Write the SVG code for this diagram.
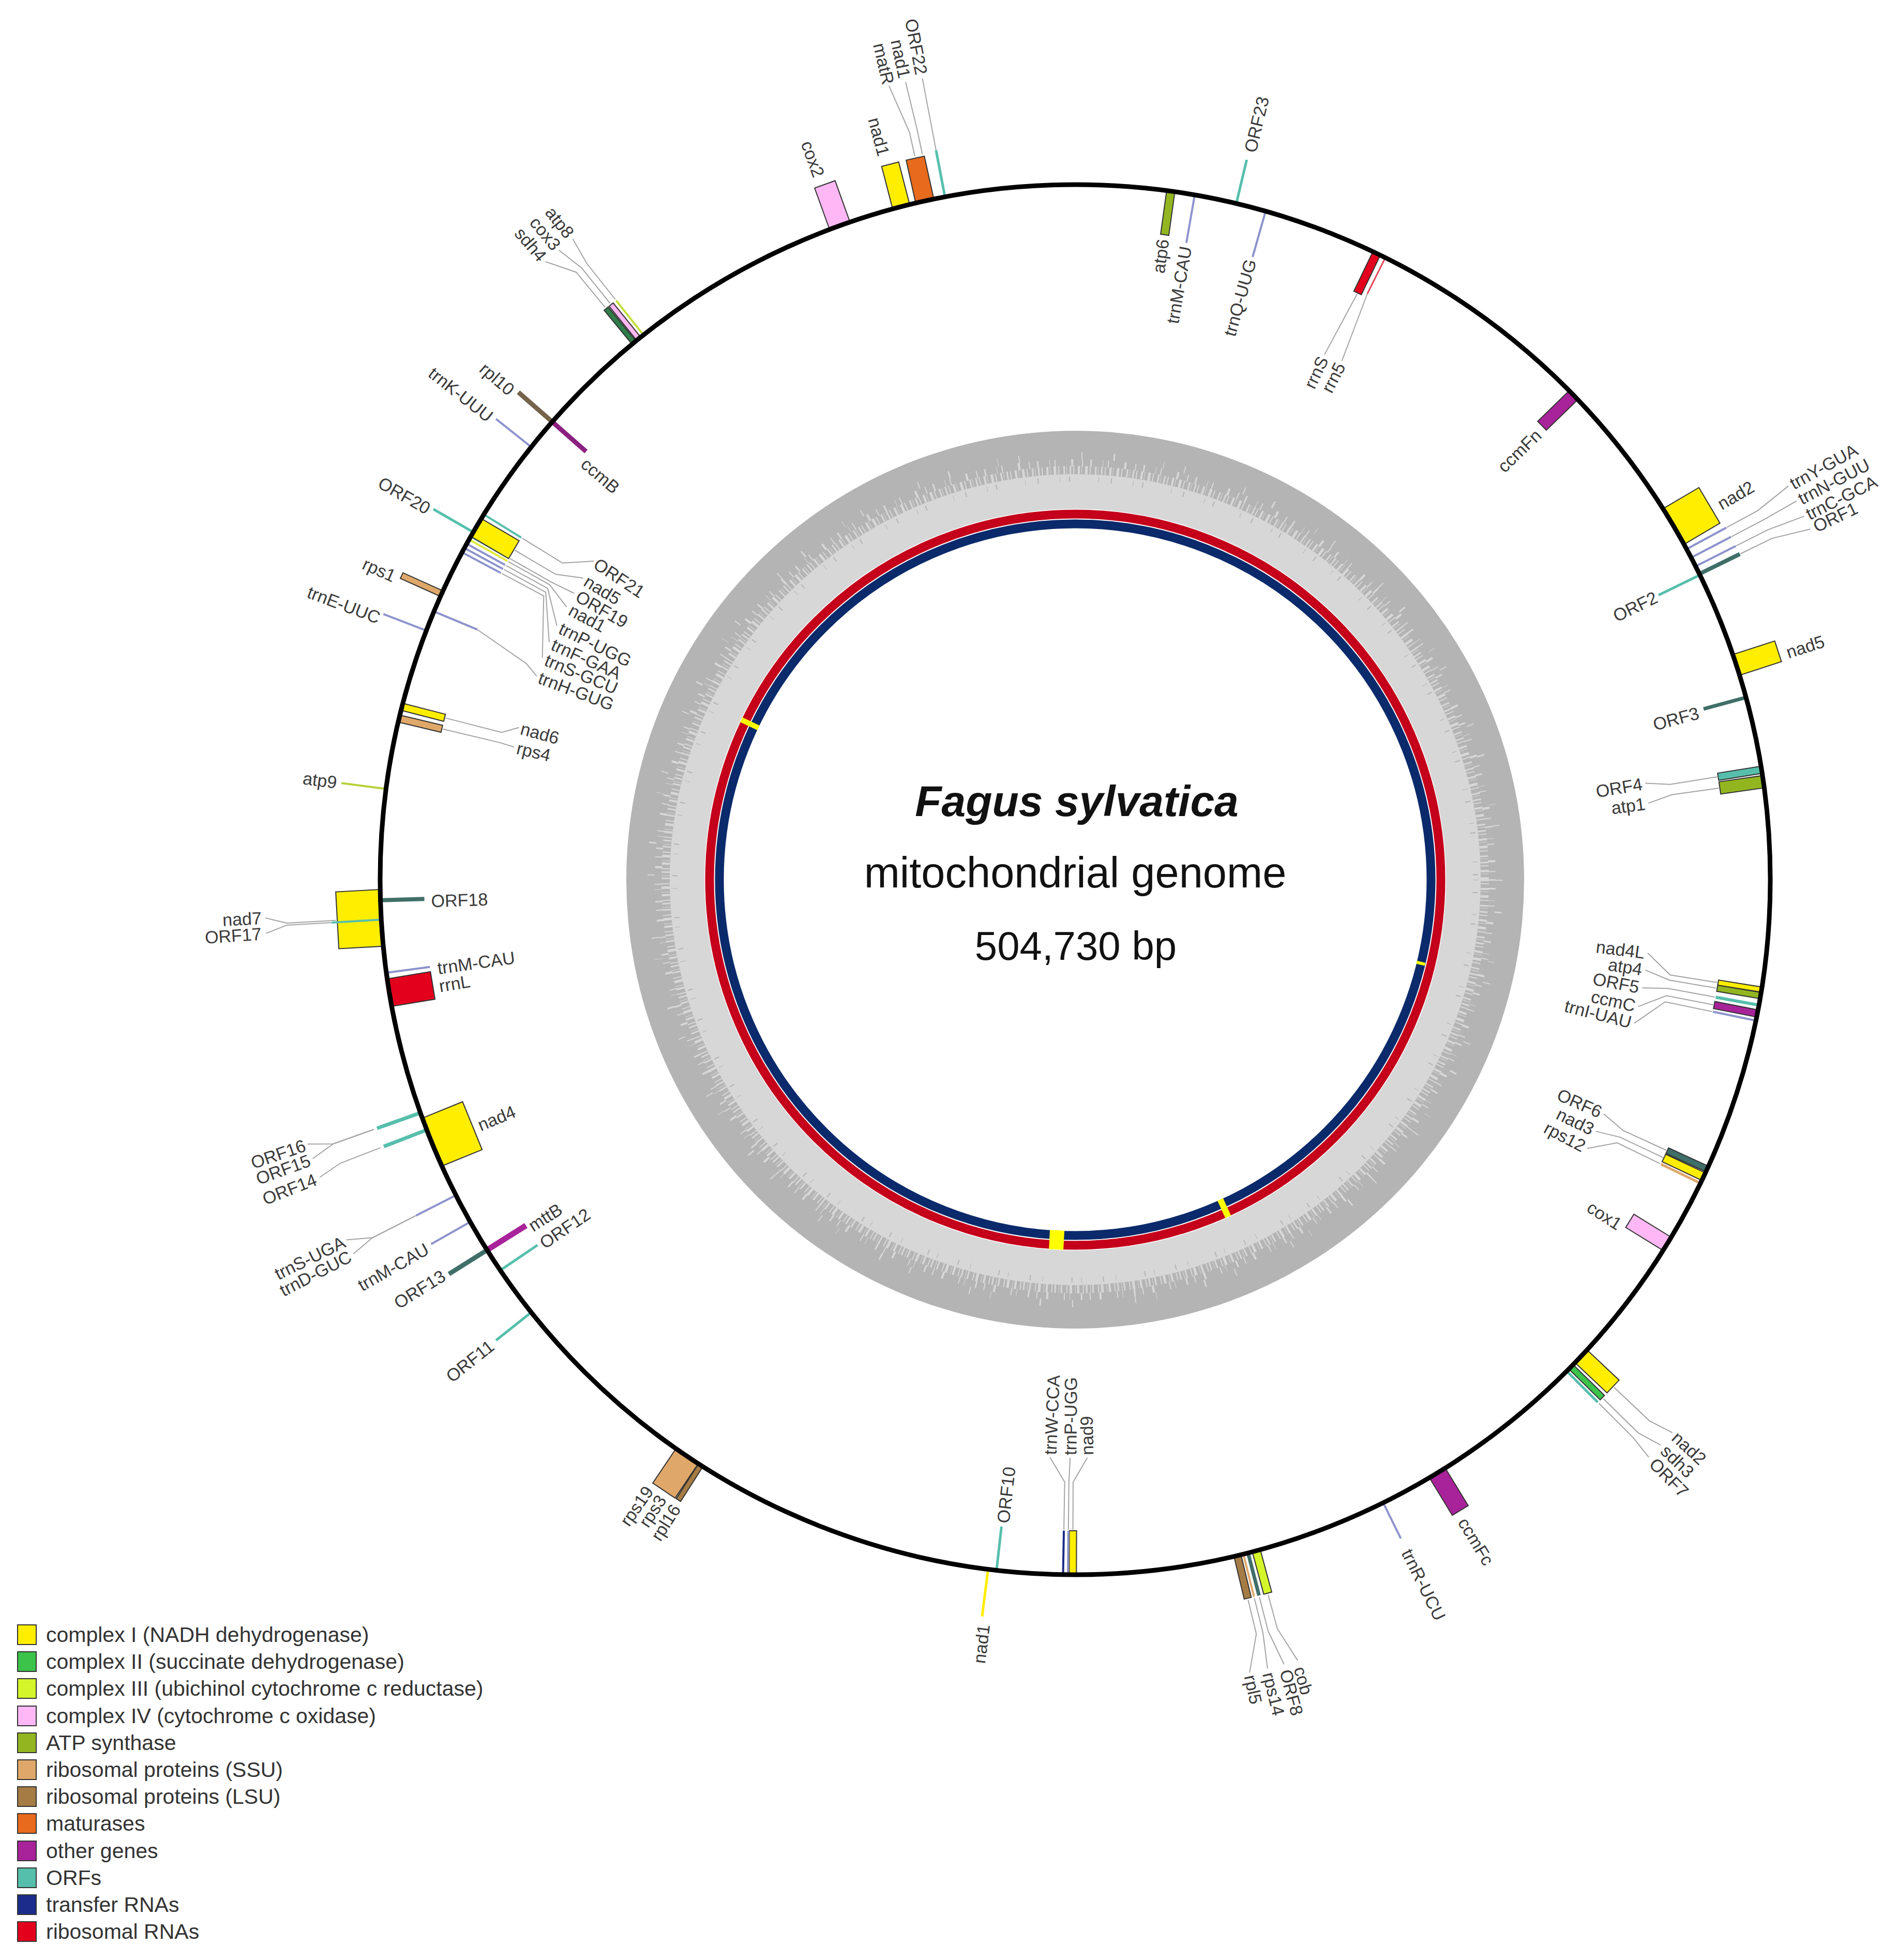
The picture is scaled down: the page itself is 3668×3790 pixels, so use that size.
<svg xmlns="http://www.w3.org/2000/svg" width="3668" height="3790" viewBox="0 0 3668 3790">
<style>
.bx{stroke:#333;stroke-width:2}
.t{font-family:"Liberation Sans",Arial,sans-serif;font-size:34px;fill:#3a3a3a}
.s{text-anchor:start}.e{text-anchor:end}
.ld{fill:none;stroke:#a3a3a3;stroke-width:2}
.tr{stroke:#8d93cc;stroke-width:4}
.lg{font-family:"Liberation Sans",Arial,sans-serif;font-size:41px;fill:#333}
.ctr{font-family:"Liberation Sans",Arial,sans-serif;fill:#111;text-anchor:middle}
</style>
<rect width="3668" height="3790" fill="#fff"/>
<g id="gc-ring">
<circle cx="2079" cy="1701" r="868" fill="#b4b4b4"/>
<circle cx="2079" cy="1701" r="784" fill="#d7d7d7"/>
<circle cx="2079" cy="1701" r="792" fill="none" stroke="#d7d7d7" stroke-width="16" stroke-dasharray="3 4 2 7 4 3 1 6 5 4 2 8 3 3 1 5"/>
<circle cx="2079" cy="1701" r="806" fill="none" stroke="#d7d7d7" stroke-width="14" stroke-dasharray="2 14 3 21 1 9 2 30 4 17"/>
<circle cx="2079" cy="1701" r="820" fill="none" stroke="#d7d7d7" stroke-width="14" stroke-dasharray="2 60 3 95 1 40 2 120"/>
<circle cx="2079" cy="1701" r="774" fill="none" stroke="#b4b4b4" stroke-width="10" stroke-dasharray="1 23 2 41 1 17 2 55"/>
<circle cx="2079" cy="1701" r="717" fill="#fff"/>
<circle cx="2079" cy="1701" r="707" fill="none" stroke="#c4001a" stroke-width="17"/>
<circle cx="2079" cy="1701" r="688" fill="none" stroke="#0b2a6b" stroke-width="17"/>
<g fill="#ffff00">
<rect x="2074" y="985" width="10" height="37" transform="rotate(295.6 2079 1701)"/>
<rect x="2076" y="1005" width="6" height="17" transform="rotate(103.6 2079 1701)"/>
<rect x="2073" y="985" width="12" height="37" transform="rotate(155.6 2079 1701)"/>
<rect x="2065" y="985" width="28" height="37" transform="rotate(182.95 2079 1701)"/>
</g>
</g>
<g id="title">
<text class="ctr" x="2082" y="1578" font-size="84" font-weight="bold" font-style="italic">Fagus sylvatica</text>
<text class="ctr" x="2079" y="1716" font-size="83">mitochondrial genome</text>
<text class="ctr" x="2080" y="1856" font-size="78">504,730 bp</text>
</g>
<g id="connectors" class="ld">
<polyline transform="rotate(-12.5 2079 1701)" points="2079,268 2079,221 2059.7,124.1"/>
<polyline transform="rotate(-11.9 2079 1701)" points="2079,268 2079,221 2076.2,124"/>
<polyline transform="rotate(-10.8 2079 1701)" points="2079,265 2079,124"/>
<polyline transform="rotate(61.6 2079 1701)" points="2079,269 2079,201 2065.3,126.1"/>
<polyline transform="rotate(62.4 2079 1701)" points="2079,269 2079,201 2076.3,126"/>
<polyline transform="rotate(63.2 2079 1701)" points="2079,269 2079,201 2087.2,126"/>
<polyline transform="rotate(63.9 2079 1701)" points="2079,269 2079,201 2095.5,126.1"/>
<polyline transform="rotate(25.7 2079 1701)" points="2079,444 2073.1,577"/>
<polyline transform="rotate(26.5 2079 1701)" points="2079,435 2092.8,573.1"/>
<polyline transform="rotate(80.9 2079 1701)" points="2079,444 2079,536 2069.2,583"/>
<polyline transform="rotate(81.9 2079 1701)" points="2079,444 2079,536 2088.8,583"/>
<polyline transform="rotate(99.1 2079 1701)" points="2079,444 2079,536 2043.9,585.6"/>
<polyline transform="rotate(99.6 2079 1701)" points="2079,444 2079,536 2067.3,585.1"/>
<polyline transform="rotate(100.4 2079 1701)" points="2079,444 2079,536 2086.8,585"/>
<polyline transform="rotate(101.1 2079 1701)" points="2079,444 2079,536 2110.2,585.4"/>
<polyline transform="rotate(101.7 2079 1701)" points="2079,444 2079,536 2131.6,586.2"/>
<polyline transform="rotate(114.6 2079 1701)" points="2079,444 2079,536 2065.3,583.1"/>
<polyline transform="rotate(115.3 2079 1701)" points="2079,444 2079,536 2088.8,583"/>
<polyline transform="rotate(115.9 2079 1701)" points="2079,444 2079,536 2114.1,583.6"/>
<polyline transform="rotate(133.3 2079 1701)" points="2079,269 2079,175 2065.3,127.1"/>
<polyline transform="rotate(134.5 2079 1701)" points="2079,269 2079,175 2065.3,127.1"/>
<polyline transform="rotate(135 2079 1701)" points="2079,269 2079,175 2084.5,127"/>
<polyline transform="rotate(166.5 2079 1701)" points="2079,269 2079,201 2109.1,131.3"/>
<polyline transform="rotate(166 2079 1701)" points="2079,269 2079,201 2087.2,131"/>
<polyline transform="rotate(165.6 2079 1701)" points="2079,269 2079,201 2065.3,131"/>
<polyline transform="rotate(164.9 2079 1701)" points="2079,269 2079,201 2057.1,131.2"/>
<polyline transform="rotate(180.2 2079 1701)" points="2079,444 2079,536 2051.7,583.3"/>
<polyline transform="rotate(180.6 2079 1701)" points="2079,444 2079,536 2077,583"/>
<polyline transform="rotate(181 2079 1701)" points="2079,444 2079,536 2108.3,583.4"/>
<polyline transform="rotate(243 2079 1701)" points="2079,269 2079,176 2098.2,129.1"/>
<polyline transform="rotate(243 2079 1701)" points="2079,269 2079,176 2068,129"/>
<polyline transform="rotate(250.4 2079 1701)" points="2079,261 2079,178 2095.4,131.1"/>
<polyline transform="rotate(250.4 2079 1701)" points="2079,261 2079,178 2065.3,131.1"/>
<polyline transform="rotate(248.9 2079 1701)" points="2079,261 2079,178 2068,131"/>
<polyline transform="rotate(266.85 2079 1701)" points="2079,269 2079,174 2091.3,133"/>
<polyline transform="rotate(266.7 2079 1701)" points="2079,261 2079,174 2065.3,133.1"/>
<polyline transform="rotate(284.4 2079 1701)" points="2079,444 2079,556 2096.5,586.1"/>
<polyline transform="rotate(283.4 2079 1701)" points="2079,444 2079,556 2077.1,586"/>
<polyline transform="rotate(292.7 2079 1701)" points="2079,448 2055.1,560.3 2040.2,588.7"/>
<polyline transform="rotate(301.7 2079 1701)" points="2079,444 2079,536 2114.1,585.6"/>
<polyline transform="rotate(300.45 2079 1701)" points="2079,444 2079,536 2099.5,585.2"/>
<polyline transform="rotate(299.6 2079 1701)" points="2079,444 2079,536 2081.9,585"/>
<polyline transform="rotate(299.3 2079 1701)" points="2079,444 2079,536 2057.6,585.2"/>
<polyline transform="rotate(298.9 2079 1701)" points="2079,444 2079,536 2024.5,586.3"/>
<polyline transform="rotate(298.5 2079 1701)" points="2079,444 2079,536 1997.3,588"/>
<polyline transform="rotate(298.1 2079 1701)" points="2079,444 2079,536 1972,590.1"/>
<polyline transform="rotate(320.6 2079 1701)" points="2079,269 2079,181 2046,127.3"/>
<polyline transform="rotate(321.1 2079 1701)" points="2079,269 2079,181 2066.6,127"/>
<polyline transform="rotate(321.6 2079 1701)" points="2079,269 2079,181 2087.2,127"/>
</g>
<g id="genes">
<g id="g-cox2"><rect class="bx" x="2058" y="272" width="42" height="85" fill="#ffb8f5" transform="rotate(-19.8 2079 1701)"/><g transform="rotate(-20 2079 1701)"><text class="t e" x="2079" y="254" dy="12" transform="rotate(90 2079 254)">cox2</text></g></g>
<g id="g-nad1-a"><rect class="bx" x="2062" y="272" width="34" height="85" fill="#ffee00" transform="rotate(-14.5 2079 1701)"/><g transform="rotate(-14.8 2079 1701)"><text class="t e" x="2079" y="253" dy="12" transform="rotate(90 2079 253)">nad1</text></g></g>
<g id="g-matR"><rect class="bx" x="2061" y="272" width="36" height="85" fill="#e86a1c" transform="rotate(-12.5 2079 1701)"/><g transform="rotate(-13.2 2079 1701)"><text class="t e" x="2079" y="121" dy="12" transform="rotate(90 2079 121)">matR</text></g></g>
<g id="g-nad1-b"><g transform="rotate(-12 2079 1701)"><text class="t e" x="2079" y="116" dy="12" transform="rotate(90 2079 116)">nad1</text></g></g>
<g id="g-ORF22"><line x1="2079" y1="357" x2="2079" y2="265" stroke="#56bfac" stroke-width="5" transform="rotate(-10.8 2079 1701)"/><g transform="rotate(-10.8 2079 1701)"><text class="t e" x="2079" y="116" dy="12" transform="rotate(90 2079 116)">ORF22</text></g></g>
<g id="g-atp6"><rect class="bx" x="2071" y="357" width="16" height="85" fill="#93b620" transform="rotate(7.9 2079 1701)"/><g transform="rotate(7.8 2079 1701)"><text class="t e" x="2079" y="451" dy="12" transform="rotate(-90 2079 451)">atp6</text></g></g>
<g id="g-trnM-CAU-a"><line class="tr" x1="2079" y1="357" x2="2079" y2="451" transform="rotate(9.9 2079 1701)"/><g transform="rotate(9.9 2079 1701)"><text class="t e" x="2079" y="458" dy="12" transform="rotate(-90 2079 458)">trnM-CAU</text></g></g>
<g id="g-ORF23"><line x1="2079" y1="357" x2="2079" y2="270" stroke="#56bfac" stroke-width="5" transform="rotate(13.4 2079 1701)"/><g transform="rotate(13.5 2079 1701)"><text class="t s" x="2079" y="254" dy="12" transform="rotate(-90 2079 254)">ORF23</text></g></g>
<g id="g-trnQ-UUG"><line class="tr" x1="2079" y1="357" x2="2079" y2="449" transform="rotate(15.9 2079 1701)"/><g transform="rotate(15.8 2079 1701)"><text class="t e" x="2079" y="455" dy="12" transform="rotate(-90 2079 455)">trnQ-UUG</text></g></g>
<g id="g-rrnS"><rect class="bx" x="2071" y="357" width="16" height="85" fill="#e3001d" transform="rotate(25.7 2079 1701)"/><g transform="rotate(25.4 2079 1701)"><text class="t e" x="2079" y="583" dy="12" transform="rotate(-90 2079 583)">rrnS</text></g></g>
<g id="g-rrn5"><line x1="2079" y1="357" x2="2079" y2="435" stroke="#e54a5c" stroke-width="3" transform="rotate(26.5 2079 1701)"/><g transform="rotate(27.2 2079 1701)"><text class="t e" x="2079" y="579" dy="12" transform="rotate(-90 2079 579)">rrn5</text></g></g>
<g id="g-ccmFn"><rect class="bx" x="2067" y="357" width="24" height="85" fill="#a8239a" transform="rotate(45.8 2079 1701)"/><g transform="rotate(46 2079 1701)"><text class="t e" x="2079" y="456" dy="12" transform="rotate(-90 2079 456)">ccmFn</text></g></g>
<g id="g-nad2-a"><rect class="bx" x="2039" y="277" width="80" height="80" fill="#ffee00" transform="rotate(59.45 2079 1701)"/><g transform="rotate(59.8 2079 1701)"><text class="t s" x="2079" y="261" dy="12" transform="rotate(-90 2079 261)">nad2</text></g></g>
<g id="g-trnY-GUA"><line class="tr" x1="2079" y1="357" x2="2079" y2="270" transform="rotate(61.6 2079 1701)"/><g transform="rotate(61.1 2079 1701)"><text class="t s" x="2079" y="120" dy="12" transform="rotate(-90 2079 120)">trnY-GUA</text></g></g>
<g id="g-trnN-GUU"><line class="tr" x1="2079" y1="357" x2="2079" y2="270" transform="rotate(62.4 2079 1701)"/><g transform="rotate(62.3 2079 1701)"><text class="t s" x="2079" y="120" dy="12" transform="rotate(-90 2079 120)">trnN-GUU</text></g></g>
<g id="g-trnC-GCA"><line class="tr" x1="2079" y1="357" x2="2079" y2="270" transform="rotate(63.2 2079 1701)"/><g transform="rotate(63.5 2079 1701)"><text class="t s" x="2079" y="120" dy="12" transform="rotate(-90 2079 120)">trnC-GCA</text></g></g>
<g id="g-ORF1"><line x1="2079" y1="357" x2="2079" y2="270" stroke="#3f6f68" stroke-width="8" transform="rotate(63.9 2079 1701)"/><g transform="rotate(64.5 2079 1701)"><text class="t s" x="2079" y="118" dy="12" transform="rotate(-90 2079 118)">ORF1</text></g></g>
<g id="g-ORF2"><line x1="2079" y1="357" x2="2079" y2="446" stroke="#56bfac" stroke-width="5" transform="rotate(64 2079 1701)"/><g transform="rotate(64 2079 1701)"><text class="t e" x="2079" y="451" dy="12" transform="rotate(-90 2079 451)">ORF2</text></g></g>
<g id="g-nad5-a"><rect class="bx" x="2058" y="272" width="42" height="85" fill="#ffee00" transform="rotate(72 2079 1701)"/><g transform="rotate(72.3 2079 1701)"><text class="t s" x="2079" y="257" dy="12" transform="rotate(-90 2079 257)">nad5</text></g></g>
<g id="g-ORF3"><line x1="2079" y1="357" x2="2079" y2="442" stroke="#3f6f68" stroke-width="7" transform="rotate(74.8 2079 1701)"/><g transform="rotate(75 2079 1701)"><text class="t e" x="2079" y="453" dy="12" transform="rotate(-90 2079 453)">ORF3</text></g></g>
<g id="g-ORF4"><rect class="bx" x="2072" y="357" width="14" height="85" fill="#56bfac" transform="rotate(80.9 2079 1701)"/><g transform="rotate(80.4 2079 1701)"><text class="t e" x="2079" y="589" dy="12" transform="rotate(-90 2079 589)">ORF4</text></g></g>
<g id="g-atp1"><rect class="bx" x="2067" y="357" width="24" height="85" fill="#93b620" transform="rotate(81.9 2079 1701)"/><g transform="rotate(82.4 2079 1701)"><text class="t e" x="2079" y="589" dy="12" transform="rotate(-90 2079 589)">atp1</text></g></g>
<g id="g-nad4L"><rect class="bx" x="2074" y="357" width="10" height="85" fill="#ffee00" transform="rotate(99.1 2079 1701)"/><g transform="rotate(97.3 2079 1701)"><text class="t e" x="2079" y="591" dy="12" transform="rotate(-90 2079 591)">nad4L</text></g></g>
<g id="g-atp4"><rect class="bx" x="2073" y="357" width="12" height="85" fill="#93b620" transform="rotate(99.6 2079 1701)"/><g transform="rotate(99 2079 1701)"><text class="t e" x="2079" y="591" dy="12" transform="rotate(-90 2079 591)">atp4</text></g></g>
<g id="g-ORF5"><line x1="2079" y1="357" x2="2079" y2="442" stroke="#56bfac" stroke-width="6" transform="rotate(100.4 2079 1701)"/><g transform="rotate(100.8 2079 1701)"><text class="t e" x="2079" y="591" dy="12" transform="rotate(-90 2079 591)">ORF5</text></g></g>
<g id="g-ccmC"><rect class="bx" x="2072" y="357" width="14" height="85" fill="#a8239a" transform="rotate(101.1 2079 1701)"/><g transform="rotate(102.7 2079 1701)"><text class="t e" x="2079" y="591" dy="12" transform="rotate(-90 2079 591)">ccmC</text></g></g>
<g id="g-trnI-UAU"><line class="tr" x1="2079" y1="357" x2="2079" y2="442" transform="rotate(101.7 2079 1701)"/><g transform="rotate(104.4 2079 1701)"><text class="t e" x="2079" y="591" dy="12" transform="rotate(-90 2079 591)">trnI-UAU</text></g></g>
<g id="g-ORF6"><rect class="bx" x="2073" y="357" width="12" height="85" fill="#3f6f68" transform="rotate(114.6 2079 1701)"/><g transform="rotate(113.9 2079 1701)"><text class="t e" x="2079" y="589" dy="12" transform="rotate(-90 2079 589)">ORF6</text></g></g>
<g id="g-nad3"><rect class="bx" x="2071" y="357" width="16" height="85" fill="#ffee00" transform="rotate(115.3 2079 1701)"/><g transform="rotate(115.8 2079 1701)"><text class="t e" x="2079" y="589" dy="12" transform="rotate(-90 2079 589)">nad3</text></g></g>
<g id="g-rps12"><line x1="2079" y1="357" x2="2079" y2="442" stroke="#dfa86a" stroke-width="5" transform="rotate(115.9 2079 1701)"/><g transform="rotate(117.7 2079 1701)"><text class="t e" x="2079" y="589" dy="12" transform="rotate(-90 2079 589)">rps12</text></g></g>
<g id="g-cox1"><rect class="bx" x="2064" y="357" width="30" height="85" fill="#ffb8f5" transform="rotate(121.6 2079 1701)"/><g transform="rotate(122.4 2079 1701)"><text class="t e" x="2079" y="453" dy="12" transform="rotate(-90 2079 453)">cox1</text></g></g>
<g id="g-nad2-b"><rect class="bx" x="2062" y="272" width="34" height="85" fill="#ffee00" transform="rotate(133.3 2079 1701)"/><g transform="rotate(132.8 2079 1701)"><text class="t s" x="2079" y="121" dy="12" transform="rotate(-90 2079 121)">nad2</text></g></g>
<g id="g-sdh3"><rect class="bx" x="2073" y="272" width="12" height="85" fill="#3bc34a" transform="rotate(134.5 2079 1701)"/><g transform="rotate(134 2079 1701)"><text class="t s" x="2079" y="119" dy="12" transform="rotate(-90 2079 119)">sdh3</text></g></g>
<g id="g-ORF7"><line x1="2079" y1="357" x2="2079" y2="272" stroke="#56bfac" stroke-width="5" transform="rotate(135 2079 1701)"/><g transform="rotate(135.2 2079 1701)"><text class="t s" x="2079" y="117" dy="12" transform="rotate(-90 2079 117)">ORF7</text></g></g>
<g id="g-ccmFc"><rect class="bx" x="2061" y="272" width="36" height="85" fill="#a8239a" transform="rotate(148.6 2079 1701)"/><g transform="rotate(148.8 2079 1701)"><text class="t s" x="2079" y="255" dy="12" transform="rotate(-90 2079 255)">ccmFc</text></g></g>
<g id="g-trnR-UCU"><line class="tr" x1="2079" y1="357" x2="2079" y2="280" transform="rotate(153.7 2079 1701)"/><g transform="rotate(153.7 2079 1701)"><text class="t s" x="2079" y="255" dy="12" transform="rotate(-90 2079 255)">trnR-UCU</text></g></g>
<g id="g-cob"><rect class="bx" x="2071" y="272" width="16" height="85" fill="#d4f52a" transform="rotate(164.9 2079 1701)"/><g transform="rotate(164.1 2079 1701)"><text class="t s" x="2079" y="118" dy="12" transform="rotate(-90 2079 118)">cob</text></g></g>
<g id="g-ORF8"><line x1="2079" y1="357" x2="2079" y2="272" stroke="#3f6f68" stroke-width="7" transform="rotate(165.6 2079 1701)"/><g transform="rotate(165.1 2079 1701)"><text class="t s" x="2079" y="120" dy="12" transform="rotate(-90 2079 120)">ORF8</text></g></g>
<g id="g-rps14"><line x1="2079" y1="357" x2="2079" y2="272" stroke="#dfa86a" stroke-width="4" transform="rotate(166 2079 1701)"/><g transform="rotate(166.3 2079 1701)"><text class="t s" x="2079" y="123" dy="12" transform="rotate(-90 2079 123)">rps14</text></g></g>
<g id="g-rpl5"><rect class="bx" x="2072" y="272" width="14" height="85" fill="#a67c45" transform="rotate(166.5 2079 1701)"/><g transform="rotate(167.6 2079 1701)"><text class="t s" x="2079" y="126" dy="12" transform="rotate(-90 2079 126)">rpl5</text></g></g>
<g id="g-nad9"><rect class="bx" x="2072" y="357" width="14" height="85" fill="#ffee00" transform="rotate(180.2 2079 1701)"/><g transform="rotate(178.8 2079 1701)"><text class="t s" x="2079" y="588" dy="12" transform="rotate(90 2079 588)">nad9</text></g></g>
<g id="g-trnP-UGG-a"><line class="tr" x1="2079" y1="357" x2="2079" y2="442" transform="rotate(180.6 2079 1701)"/><g transform="rotate(180.5 2079 1701)"><text class="t s" x="2079" y="588" dy="12" transform="rotate(90 2079 588)">trnP-UGG</text></g></g>
<g id="g-trnW-CCA"><line x1="2079" y1="357" x2="2079" y2="442" stroke="#1c2c8a" stroke-width="4" transform="rotate(181 2079 1701)"/><g transform="rotate(182.5 2079 1701)"><text class="t s" x="2079" y="588" dy="12" transform="rotate(90 2079 588)">trnW-CCA</text></g></g>
<g id="g-ORF10"><line x1="2079" y1="357" x2="2079" y2="442" stroke="#56bfac" stroke-width="5" transform="rotate(186.5 2079 1701)"/><g transform="rotate(186.4 2079 1701)"><text class="t s" x="2079" y="449" dy="12" transform="rotate(90 2079 449)">ORF10</text></g></g>
<g id="g-nad1-c"><line x1="2079" y1="357" x2="2079" y2="265" stroke="#ffee00" stroke-width="5" transform="rotate(187.2 2079 1701)"/><g transform="rotate(187 2079 1701)"><text class="t e" x="2079" y="250" dy="12" transform="rotate(90 2079 250)">nad1</text></g></g>
<g id="g-rps19"><rect class="bx" x="2053" y="277" width="52" height="80" fill="#dfa86a" transform="rotate(213.95 2079 1701)"/><g transform="rotate(215 2079 1701)"><text class="t e" x="2079" y="265" dy="12" transform="rotate(90 2079 265)">rps19</text></g></g>
<g id="g-rps3"><g transform="rotate(213.8 2079 1701)"><text class="t e" x="2079" y="265" dy="12" transform="rotate(90 2079 265)">rps3</text></g></g>
<g id="g-rpl16"><rect class="bx" x="2074" y="277" width="10" height="80" fill="#a67c45" transform="rotate(212.6 2079 1701)"/><g transform="rotate(212.5 2079 1701)"><text class="t e" x="2079" y="265" dy="12" transform="rotate(90 2079 265)">rpl16</text></g></g>
<g id="g-ORF11"><line x1="2079" y1="357" x2="2079" y2="270" stroke="#56bfac" stroke-width="5" transform="rotate(231.5 2079 1701)"/><g transform="rotate(231.5 2079 1701)"><text class="t e" x="2079" y="259" dy="12" transform="rotate(90 2079 259)">ORF11</text></g></g>
<g id="g-ORF12"><line x1="2079" y1="357" x2="2079" y2="444" stroke="#56bfac" stroke-width="5" transform="rotate(235.8 2079 1701)"/><g transform="rotate(235.65 2079 1701)"><text class="t s" x="2079" y="451" dy="12" transform="rotate(90 2079 451)">ORF12</text></g></g>
<g id="g-mttB"><line x1="2079" y1="357" x2="2079" y2="446" stroke="#a8239a" stroke-width="11" transform="rotate(237.8 2079 1701)"/><g transform="rotate(237.5 2079 1701)"><text class="t s" x="2079" y="451" dy="12" transform="rotate(90 2079 451)">mttB</text></g></g>
<g id="g-ORF13"><line x1="2079" y1="357" x2="2079" y2="270" stroke="#3f6f68" stroke-width="9" transform="rotate(237.8 2079 1701)"/><g transform="rotate(238 2079 1701)"><text class="t e" x="2079" y="261" dy="12" transform="rotate(90 2079 261)">ORF13</text></g></g>
<g id="g-trnM-CAU-b"><line class="tr" x1="2079" y1="357" x2="2079" y2="270" transform="rotate(240.5 2079 1701)"/><g transform="rotate(240.4 2079 1701)"><text class="t e" x="2079" y="260" dy="12" transform="rotate(90 2079 260)">trnM-CAU</text></g></g>
<g id="g-trnS-UGA"><line class="tr" x1="2079" y1="357" x2="2079" y2="270" transform="rotate(243 2079 1701)"/><g transform="rotate(243.7 2079 1701)"><text class="t e" x="2079" y="124" dy="12" transform="rotate(90 2079 124)">trnS-UGA</text></g></g>
<g id="g-trnD-GUC"><g transform="rotate(242.6 2079 1701)"><text class="t e" x="2079" y="122" dy="12" transform="rotate(90 2079 122)">trnD-GUC</text></g></g>
<g id="g-nad4"><rect class="bx" x="2029" y="357" width="100" height="85" fill="#ffee00" transform="rotate(247.8 2079 1701)"/><g transform="rotate(247.6 2079 1701)"><text class="t s" x="2079" y="453" dy="12" transform="rotate(90 2079 453)">nad4</text></g></g>
<g id="g-ORF14"><line x1="2079" y1="357" x2="2079" y2="268" stroke="#56bfac" stroke-width="7" transform="rotate(248.9 2079 1701)"/><g transform="rotate(248.5 2079 1701)"><text class="t e" x="2079" y="123" dy="12" transform="rotate(90 2079 123)">ORF14</text></g></g>
<g id="g-ORF15"><g transform="rotate(249.9 2079 1701)"><text class="t e" x="2079" y="125" dy="12" transform="rotate(90 2079 125)">ORF15</text></g></g>
<g id="g-ORF16"><line x1="2079" y1="357" x2="2079" y2="268" stroke="#56bfac" stroke-width="7" transform="rotate(250.4 2079 1701)"/><g transform="rotate(251 2079 1701)"><text class="t e" x="2079" y="126" dy="12" transform="rotate(90 2079 126)">ORF16</text></g></g>
<g id="g-rrnL"><rect class="bx" x="2052" y="357" width="54" height="85" fill="#e3001d" transform="rotate(260.65 2079 1701)"/><g transform="rotate(260.5 2079 1701)"><text class="t s" x="2079" y="454" dy="12" transform="rotate(90 2079 454)">rrnL</text></g></g>
<g id="g-trnM-CAU-c"><line class="tr" x1="2079" y1="357" x2="2079" y2="442" transform="rotate(262.3 2079 1701)"/><g transform="rotate(262.1 2079 1701)"><text class="t s" x="2079" y="456" dy="12" transform="rotate(90 2079 456)">trnM-CAU</text></g></g>
<g id="g-nad7"><rect class="bx" x="2024" y="272" width="110" height="85" fill="#ffee00" transform="rotate(266.85 2079 1701)"/><g transform="rotate(267.3 2079 1701)"><text class="t e" x="2079" y="126" dy="12" transform="rotate(90 2079 126)">nad7</text></g></g>
<g id="g-ORF17"><line x1="2079" y1="357" x2="2079" y2="261" stroke="#56bfac" stroke-width="4" transform="rotate(266.7 2079 1701)"/><g transform="rotate(266.2 2079 1701)"><text class="t e" x="2079" y="124" dy="12" transform="rotate(90 2079 124)">ORF17</text></g></g>
<g id="g-ORF18"><line x1="2079" y1="357" x2="2079" y2="442" stroke="#3f6f68" stroke-width="8" transform="rotate(268.3 2079 1701)"/><g transform="rotate(268.1 2079 1701)"><text class="t s" x="2079" y="455" dy="12" transform="rotate(90 2079 455)">ORF18</text></g></g>
<g id="g-atp9"><line x1="2079" y1="357" x2="2079" y2="270" stroke="#b7d23a" stroke-width="4" transform="rotate(277.5 2079 1701)"/><g transform="rotate(277.5 2079 1701)"><text class="t e" x="2079" y="261" dy="12" transform="rotate(90 2079 261)">atp9</text></g></g>
<g id="g-rps4"><rect class="bx" x="2072" y="357" width="14" height="85" fill="#dfa86a" transform="rotate(283.4 2079 1701)"/><g transform="rotate(283.3 2079 1701)"><text class="t s" x="2079" y="592" dy="12" transform="rotate(90 2079 592)">rps4</text></g></g>
<g id="g-nad6"><rect class="bx" x="2072" y="357" width="14" height="85" fill="#ffee00" transform="rotate(284.4 2079 1701)"/><g transform="rotate(285.3 2079 1701)"><text class="t s" x="2079" y="590" dy="12" transform="rotate(90 2079 590)">nad6</text></g></g>
<g id="g-trnE-UUC"><line class="tr" x1="2079" y1="357" x2="2079" y2="268" transform="rotate(291 2079 1701)"/><g transform="rotate(290.6 2079 1701)"><text class="t e" x="2079" y="264" dy="12" transform="rotate(90 2079 264)">trnE-UUC</text></g></g>
<g id="g-trnH-GUG"><line class="tr" x1="2079" y1="357" x2="2079" y2="448" transform="rotate(292.7 2079 1701)"/><g transform="rotate(290.7 2079 1701)"><text class="t s" x="2079" y="593" dy="12" transform="rotate(90 2079 593)">trnH-GUG</text></g></g>
<g id="g-rps1"><rect class="bx" x="2073" y="272" width="12" height="85" fill="#dfa86a" transform="rotate(294.3 2079 1701)"/><g transform="rotate(294 2079 1701)"><text class="t e" x="2079" y="261" dy="12" transform="rotate(90 2079 261)">rps1</text></g></g>
<g id="g-trnS-GCU"><line class="tr" x1="2079" y1="357" x2="2079" y2="442" transform="rotate(298.1 2079 1701)"/><g transform="rotate(292.6 2079 1701)"><text class="t s" x="2079" y="592" dy="12" transform="rotate(90 2079 592)">trnS-GCU</text></g></g>
<g id="g-trnF-GAA"><line class="tr" x1="2079" y1="357" x2="2079" y2="442" transform="rotate(298.5 2079 1701)"/><g transform="rotate(294.3 2079 1701)"><text class="t s" x="2079" y="592" dy="12" transform="rotate(90 2079 592)">trnF-GAA</text></g></g>
<g id="g-trnP-UGG-b"><line class="tr" x1="2079" y1="357" x2="2079" y2="442" transform="rotate(298.9 2079 1701)"/><g transform="rotate(296.1 2079 1701)"><text class="t s" x="2079" y="592" dy="12" transform="rotate(90 2079 592)">trnP-UGG</text></g></g>
<g id="g-nad1-d"><line x1="2079" y1="357" x2="2079" y2="442" stroke="#e2e83a" stroke-width="4" transform="rotate(299.3 2079 1701)"/><g transform="rotate(298.2 2079 1701)"><text class="t s" x="2079" y="593" dy="12" transform="rotate(90 2079 593)">nad1</text></g></g>
<g id="g-ORF19"><line x1="2079" y1="357" x2="2079" y2="442" stroke="#56bfac" stroke-width="4" transform="rotate(299.6 2079 1701)"/><g transform="rotate(299.75 2079 1701)"><text class="t s" x="2079" y="592" dy="12" transform="rotate(90 2079 592)">ORF19</text></g></g>
<g id="g-nad5-b"><rect class="bx" x="2059" y="357" width="40" height="85" fill="#ffee00" transform="rotate(300.45 2079 1701)"/><g transform="rotate(301.5 2079 1701)"><text class="t s" x="2079" y="591" dy="12" transform="rotate(90 2079 591)">nad5</text></g></g>
<g id="g-ORF20"><line x1="2079" y1="357" x2="2079" y2="268" stroke="#56bfac" stroke-width="5" transform="rotate(300 2079 1701)"/><g transform="rotate(299.8 2079 1701)"><text class="t e" x="2079" y="261" dy="12" transform="rotate(90 2079 261)">ORF20</text></g></g>
<g id="g-ORF21"><line x1="2079" y1="357" x2="2079" y2="442" stroke="#56bfac" stroke-width="4" transform="rotate(301.7 2079 1701)"/><g transform="rotate(303.5 2079 1701)"><text class="t s" x="2079" y="589" dy="12" transform="rotate(90 2079 589)">ORF21</text></g></g>
<g id="g-trnK-UUU"><line class="tr" x1="2079" y1="357" x2="2079" y2="270" transform="rotate(308.5 2079 1701)"/><g transform="rotate(308.3 2079 1701)"><text class="t e" x="2079" y="261" dy="12" transform="rotate(90 2079 261)">trnK-UUU</text></g></g>
<g id="g-rpl10"><line x1="2079" y1="357" x2="2079" y2="270" stroke="#75634c" stroke-width="9" transform="rotate(311.2 2079 1701)"/><g transform="rotate(310.9 2079 1701)"><text class="t e" x="2079" y="260" dy="12" transform="rotate(90 2079 260)">rpl10</text></g></g>
<g id="g-ccmB"><line x1="2079" y1="357" x2="2079" y2="444" stroke="#8c2080" stroke-width="9" transform="rotate(311.2 2079 1701)"/><g transform="rotate(310.4 2079 1701)"><text class="t s" x="2079" y="453" dy="12" transform="rotate(90 2079 453)">ccmB</text></g></g>
<g id="g-sdh4"><rect class="bx" x="2074" y="272" width="10" height="85" fill="#2f7d4a" transform="rotate(320.6 2079 1701)"/><g transform="rotate(319.4 2079 1701)"><text class="t e" x="2079" y="120" dy="12" transform="rotate(90 2079 120)">sdh4</text></g></g>
<g id="g-cox3"><rect class="bx" x="2074" y="272" width="10" height="85" fill="#ffb8f5" transform="rotate(321.1 2079 1701)"/><g transform="rotate(320.65 2079 1701)"><text class="t e" x="2079" y="121" dy="12" transform="rotate(90 2079 121)">cox3</text></g></g>
<g id="g-atp8"><line x1="2079" y1="357" x2="2079" y2="272" stroke="#c3e03a" stroke-width="4" transform="rotate(321.6 2079 1701)"/><g transform="rotate(321.9 2079 1701)"><text class="t e" x="2079" y="119" dy="12" transform="rotate(90 2079 119)">atp8</text></g></g>
</g>
<circle id="genome" cx="2079" cy="1701" r="1344" fill="none" stroke="#000" stroke-width="9"/>
<g id="legend">
<g class="bx"><rect x="34" y="3142" width="36" height="38" fill="#ffee00"/><rect x="34" y="3194" width="36" height="38" fill="#3bc34a"/><rect x="34" y="3246" width="36" height="38" fill="#d4f52a"/><rect x="34" y="3299" width="36" height="38" fill="#ffb8f5"/><rect x="34" y="3351" width="36" height="38" fill="#93b620"/><rect x="34" y="3403" width="36" height="38" fill="#dfa86a"/><rect x="34" y="3455" width="36" height="38" fill="#a67c45"/><rect x="34" y="3507" width="36" height="38" fill="#e86a1c"/><rect x="34" y="3560" width="36" height="38" fill="#a8239a"/><rect x="34" y="3612" width="36" height="38" fill="#56bfac"/><rect x="34" y="3664" width="36" height="38" fill="#1c2c8a"/><rect x="34" y="3716" width="36" height="38" fill="#e3001d"/></g>
<text class="lg" x="89" y="3175">complex I (NADH dehydrogenase)</text>
<text class="lg" x="89" y="3227">complex II (succinate dehydrogenase)</text>
<text class="lg" x="89" y="3279">complex III (ubichinol cytochrome c reductase)</text>
<text class="lg" x="89" y="3332">complex IV (cytochrome c oxidase)</text>
<text class="lg" x="89" y="3384">ATP synthase</text>
<text class="lg" x="89" y="3436">ribosomal proteins (SSU)</text>
<text class="lg" x="89" y="3488">ribosomal proteins (LSU)</text>
<text class="lg" x="89" y="3540">maturases</text>
<text class="lg" x="89" y="3593">other genes</text>
<text class="lg" x="89" y="3645">ORFs</text>
<text class="lg" x="89" y="3697">transfer RNAs</text>
<text class="lg" x="89" y="3749">ribosomal RNAs</text>
</g>
</svg>
